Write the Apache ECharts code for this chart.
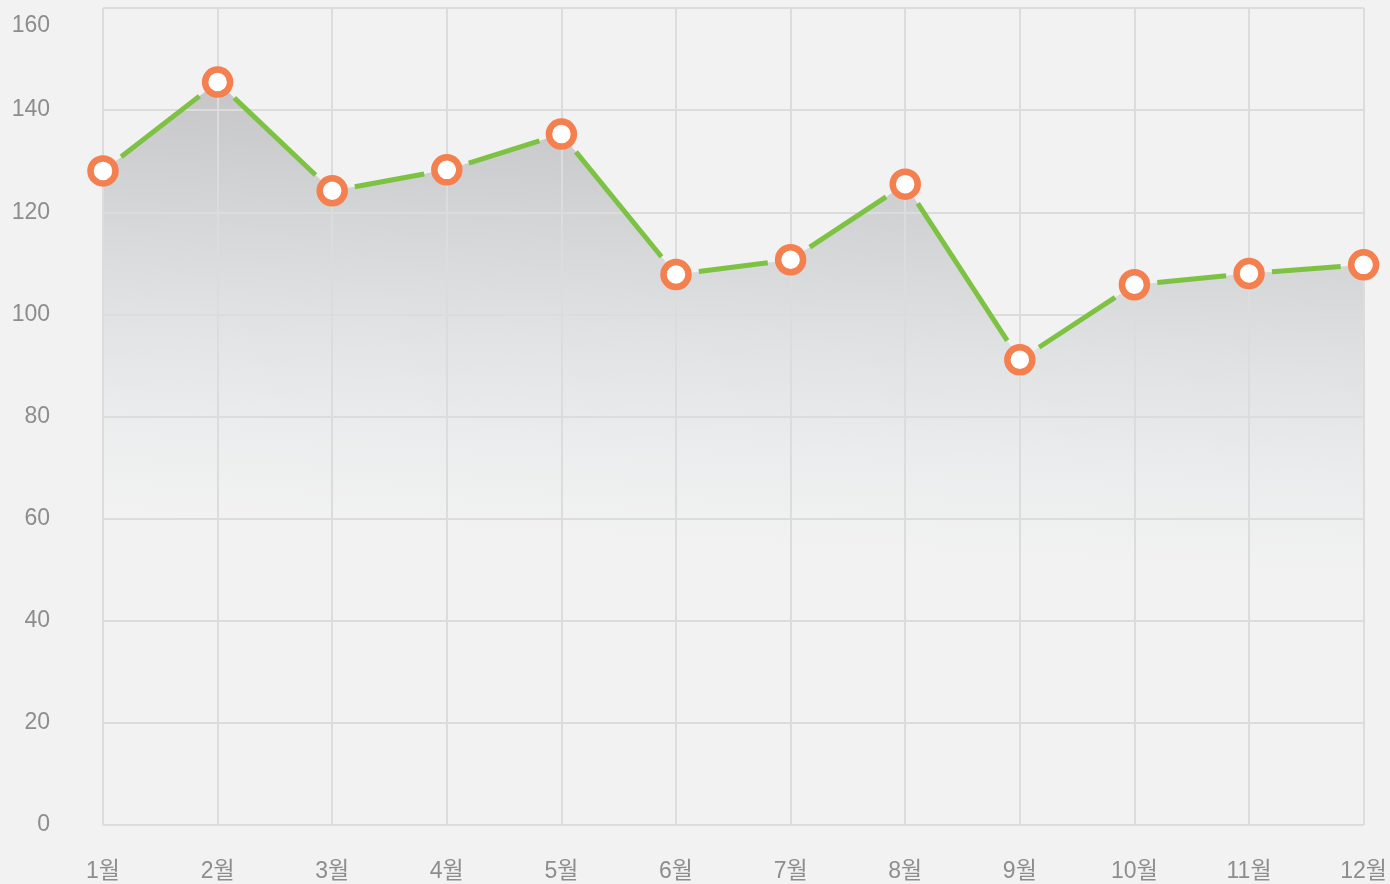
<!DOCTYPE html>
<html>
<head>
<meta charset="utf-8">
<script src="https://cdn.jsdelivr.net/npm/echarts@6/dist/echarts.min.js"></script>
<style>
  html, body { margin: 0; padding: 0; background: #f1f2f1; }
  #chart { width: 1390px; height: 884px; }
</style>
</head>
<body>
<div id="chart"></div>
<script>
  // 월별 값
  var months = ['1월', '2월', '3월', '4월', '5월', '6월', '7월', '8월', '9월', '10월', '11월', '12월'];
  var values = [128.1, 145.5, 124.2, 128.3, 135.3, 107.8, 110.7, 125.5, 91.1, 105.8, 108, 109.7];
  var yTicks = [0, 20, 40, 60, 80, 100, 120, 140, 160];

  var labelColor = '#8d8d8d';
  var gridColor = '#dcdcdc';
  var fontFamily = '"Liberation Sans", Arial, "Noto Sans CJK KR", sans-serif';

  // 선 구간 (다음 값까지)
  var segments = [];
  for (var i = 0; i < values.length - 1; i++) {
    segments.push([i, values[i], values[i + 1]]);
  }

  var myChart = echarts.init(document.getElementById('chart'));
  myChart.setOption({
    backgroundColor: '#f1f2f1',
    animation: false,
    grid: {
      left: 103,
      right: 24,
      top: 8,
      bottom: 59
    },
    xAxis: {
      type: 'category',
      data: months,
      boundaryGap: false,
      z: 2,
      axisLine: { show: false },
      axisTick: { show: false },
      axisLabel: {
        color: labelColor,
        fontSize: 23,
        fontFamily: fontFamily,
        margin: 35
      },
      splitLine: {
        show: true,
        lineStyle: { color: gridColor, width: 2 }
      }
    },
    yAxis: {
      type: 'value',
      min: yTicks[0],
      max: yTicks[yTicks.length - 1],
      interval: 20,
      z: 2,
      axisLine: { show: false },
      axisTick: { show: false },
      axisLabel: {
        color: labelColor,
        fontSize: 23,
        fontFamily: fontFamily,
        margin: 53,
        formatter: function (v) {
          return v === yTicks[yTicks.length - 1] ? '{top|' + v + '}' : String(v);
        },
        rich: {
          top: {
            color: labelColor,
            fontSize: 23,
            fontFamily: fontFamily,
            padding: [36, 0, 0, 0]
          }
        }
      },
      splitLine: {
        show: true,
        lineStyle: { color: gridColor, width: 2 }
      }
    },
    series: [
      {
        name: 'area',
        type: 'line',
        data: values,
        z: 1,
        symbol: 'none',
        lineStyle: { width: 0, opacity: 0 },
        areaStyle: {
          opacity: 1,
          color: new echarts.graphic.LinearGradient(0.03, 0, 0, 1, [
            { offset: 0, color: '#c6c6c8' },
            { offset: 0.15, color: '#d3d4d6' },
            { offset: 0.31, color: '#e1e2e3' },
            { offset: 0.45, color: '#ebeced' },
            { offset: 0.58, color: '#f1f2f1' },
            { offset: 1, color: '#f1f2f1' }
          ])
        }
      },
      {
        name: 'line',
        type: 'custom',
        data: segments,
        z: 3,
        encode: { x: 0, y: 1 },
        renderItem: function (params, api) {
          var idx = api.value(0);
          var p1 = api.coord([idx, api.value(1)]);
          var p2 = api.coord([idx + 1, api.value(2)]);
          var dx = p2[0] - p1[0], dy = p2[1] - p1[1];
          var len = Math.sqrt(dx * dx + dy * dy);
          var gap = 23;
          if (len <= gap * 2) return null;
          var ux = dx / len, uy = dy / len;
          return {
            type: 'line',
            shape: {
              x1: p1[0] + ux * gap, y1: p1[1] + uy * gap,
              x2: p2[0] - ux * gap, y2: p2[1] - uy * gap
            },
            style: { stroke: '#7dc242', lineWidth: 5 }
          };
        }
      },
      {
        name: 'points',
        type: 'line',
        data: values,
        z: 4,
        symbol: 'circle',
        symbolSize: 25,
        showAllSymbol: true,
        lineStyle: { width: 0, opacity: 0 },
        itemStyle: {
          color: '#ffffff',
          borderColor: '#f47f4f',
          borderWidth: 6.5
        }
      }
    ]
  });

  window.addEventListener('resize', function () {
    myChart.resize();
  });
</script>
</body>
</html>
